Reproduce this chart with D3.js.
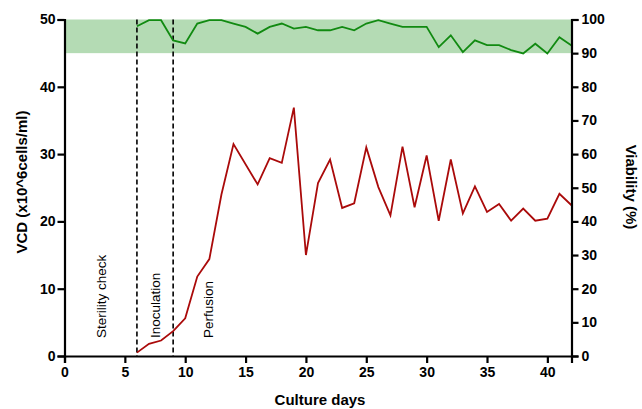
<!DOCTYPE html>
<html>
<head>
<meta charset="utf-8">
<script src="https://cdn.jsdelivr.net/npm/d3@7"></script>
<style>
  html, body { margin: 0; padding: 0; background: #fff; }
  svg { display: block; font-family: "Liberation Sans", Arial, sans-serif; }
</style>
</head>
<body>
<svg id="chart" width="642" height="409"></svg>
<script>
// ---- Data ----
const vcdDays = [6,7,8,9,10,11,12,13,14,16,17,18,19,20,21,22,23,24,25,26,27,28,29,30,31,32,33,34,35,36,37,38,39,40,41,42];
const vcdValues = [0.5,1.8,2.3,3.7,5.6,11.8,14.4,24.0,31.5,25.5,29.4,28.7,36.9,15.0,25.7,29.2,22.0,22.7,31.0,25.1,20.9,31.1,22.1,29.8,20.1,29.2,21.2,25.2,21.4,22.6,20.1,21.9,20.1,20.4,24.1,22.4];
const viaDays = [6,7,8,9,10,11,12,13,14,15,16,17,18,19,20,21,22,23,24,25,26,27,28,29,30,31,32,33,34,35,36,37,38,39,40,41,42];
const viaValues = [98.0,99.8,99.8,93.8,92.9,98.8,99.8,99.8,98.8,97.8,95.8,97.8,98.8,97.3,97.8,96.8,96.8,97.8,96.8,98.8,99.8,98.8,97.8,97.8,97.8,91.8,95.3,90.3,93.8,92.4,92.4,90.9,89.9,92.8,89.9,94.7,92.3];
const xTicks = [0,5,10,15,20,25,30,35,40];
const yLeftTicks = [0,10,20,30,40,50];
const yRightTicks = [0,10,20,30,40,50,60,70,80,90,100];
const phaseLines = [6, 9];
const phaseLabels = [
  {day: 3.05, text: "Sterility check"},
  {day: 7.5, text: "Inoculation"},
  {day: 11.9, text: "Perfusion"}
];
const bandRange = [90, 100]; // viability band

// ---- Layout ----
const svg = d3.select("#chart");
const x0 = 64.5, x1 = 571.5, yTop = 19.5, yBot = 356;
const x = d3.scaleLinear().domain([0, 42]).range([x0, x1]);
const yL = d3.scaleLinear().domain([0, 50]).range([yBot, yTop]);
const yR = d3.scaleLinear().domain([0, 100]).range([yBot, yTop]);

// green band
svg.append("rect")
  .attr("x", x(0)).attr("width", x(42) - x(0))
  .attr("y", yR(bandRange[1])).attr("height", yR(bandRange[0]) - yR(bandRange[1]))
  .attr("fill", "#b4dbb4");

// dashed phase lines
svg.selectAll(".phase").data(phaseLines).enter().append("line")
  .attr("x1", d => x(d)).attr("x2", d => x(d))
  .attr("y1", yTop).attr("y2", yBot)
  .attr("stroke", "#000").attr("stroke-width", 1.6)
  .attr("stroke-dasharray", "5,3");

// phase labels
svg.selectAll(".plabel").data(phaseLabels).enter().append("text")
  .attr("transform", d => `translate(${x(d.day) + 5},338) rotate(-90)`)
  .attr("font-size", 13.5).attr("fill", "#000")
  .text(d => d.text);

// lines
const vcdLine = d3.line().x((d, i) => x(vcdDays[i])).y(d => yL(d));
svg.append("path").datum(vcdValues)
  .attr("d", vcdLine).attr("fill", "none")
  .attr("stroke", "#aa0a0a").attr("stroke-width", 1.8).attr("stroke-linejoin", "miter");

const viaLine = d3.line().x((d, i) => x(viaDays[i])).y(d => yR(d));
svg.append("path").datum(viaValues)
  .attr("d", viaLine).attr("fill", "none")
  .attr("stroke", "#118a11").attr("stroke-width", 1.8);

// axes
function styleAxis(g) {
  g.select(".domain").attr("stroke", "#000").attr("stroke-width", 2.2);
  g.selectAll(".tick line").attr("stroke", "#000").attr("stroke-width", 2.2);
  g.selectAll(".tick text").attr("font-size", 14).attr("font-weight", "bold")
    .attr("fill", "#000").attr("font-family", "'Liberation Sans', Arial, sans-serif");
}

const gx = svg.append("g").attr("transform", `translate(0,${yBot})`)
  .call(d3.axisBottom(x).tickValues(xTicks).tickSizeOuter(0).tickSize(7).tickPadding(4));
styleAxis(gx);

const gl = svg.append("g").attr("transform", `translate(${x0},0)`)
  .call(d3.axisLeft(yL).tickValues(yLeftTicks).tickSizeOuter(0).tickSize(7).tickPadding(2));
styleAxis(gl);

const gr = svg.append("g").attr("transform", `translate(${x1},0)`)
  .call(d3.axisRight(yR).tickValues(yRightTicks).tickSizeOuter(0).tickSize(7).tickPadding(3));
styleAxis(gr);

// axis titles
svg.append("text").attr("x", 320).attr("y", 405)
  .attr("text-anchor", "middle").attr("font-size", 15).attr("font-weight", "bold")
  .text("Culture days");
svg.append("text")
  .attr("transform", "translate(27,182) rotate(-90)")
  .attr("text-anchor", "middle").attr("font-size", 15).attr("font-weight", "bold")
  .text("VCD (x10^6cells/ml)");
svg.append("text")
  .attr("transform", "translate(626,187) rotate(90)")
  .attr("text-anchor", "middle").attr("font-size", 15).attr("font-weight", "bold")
  .text("Viability (%)");
</script>
</body>
</html>
